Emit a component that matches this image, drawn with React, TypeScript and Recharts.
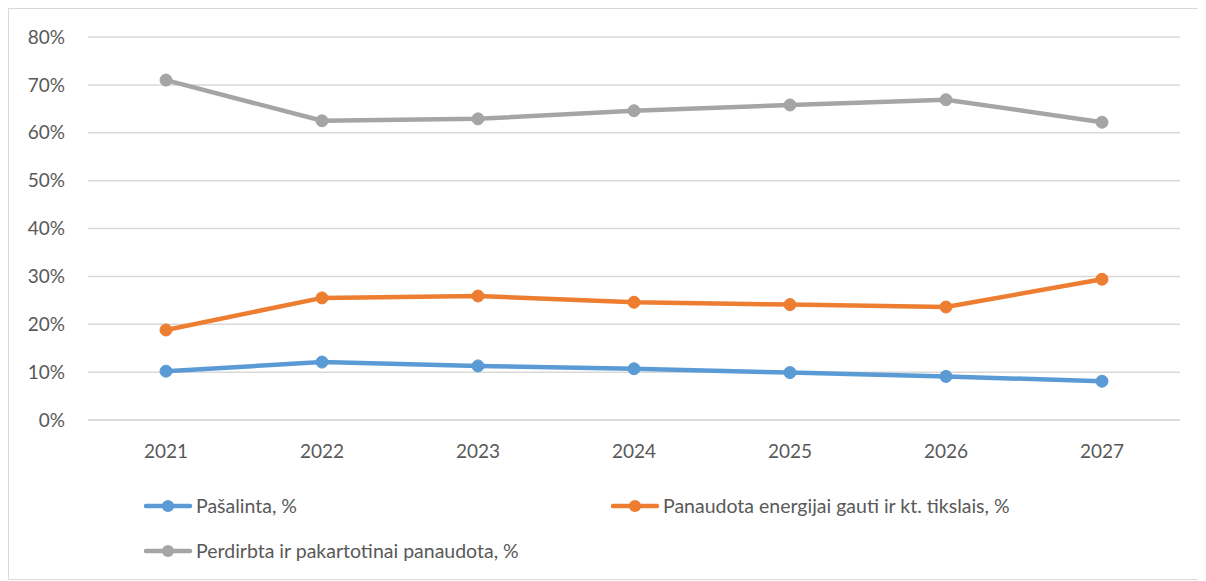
import { CartesianGrid, Legend, Line, LineChart, XAxis, YAxis } from "recharts";

const years = ["2021", "2022", "2023", "2024", "2025", "2026", "2027"];
const pasalinta = [10.2, 12.1, 11.3, 10.7, 9.9, 9.1, 8.1];
const energijai = [18.8, 25.5, 25.9, 24.6, 24.1, 23.6, 29.4];
const perdirbta = [71.0, 62.5, 62.9, 64.6, 65.8, 66.9, 62.2];
const yTicks = [0, 10, 20, 30, 40, 50, 60, 70, 80];

const seriesNames = {
  pasalinta: "Pašalinta, %",
  energijai: "Panaudota energijai gauti ir kt. tikslais, %",
  perdirbta: "Perdirbta ir pakartotinai panaudota, %",
};

const data = years.map((year, i) => ({
  year,
  pasalinta: pasalinta[i],
  energijai: energijai[i],
  perdirbta: perdirbta[i],
}));

const FONT = "Lato, 'Open Sans', sans-serif";
const TEXT = "#595959";

function LegendItem({ color, label }: { color: string; label: string }) {
  return (
    <div style={{ display: "flex", alignItems: "center" }}>
      <svg width={50} height={14}>
        <line x1={2} y1={7} x2={46} y2={7} stroke={color} strokeWidth={4.5} strokeLinecap="round" />
        <circle cx={24} cy={7} r={6} fill={color} />
      </svg>
      <span style={{ color: TEXT, fontSize: 19.5, fontFamily: FONT, marginLeft: 2 }}>{label}</span>
    </div>
  );
}

function ChartLegend() {
  return (
    <div style={{ position: "relative", height: 119 }}>
      <div style={{ position: "absolute", left: 135, top: 34 }}>
        <LegendItem color="#5B9BD5" label={seriesNames.pasalinta} />
      </div>
      <div style={{ position: "absolute", left: 602, top: 34 }}>
        <LegendItem color="#ED7D31" label={seriesNames.energijai} />
      </div>
      <div style={{ position: "absolute", left: 135, top: 79 }}>
        <LegendItem color="#A5A5A5" label={seriesNames.perdirbta} />
      </div>
    </div>
  );
}

export default function App() {
  return (
    <div style={{ width: 1190, height: 570, border: "1px solid #d9d9d9", background: "#fff" }}>
      <LineChart width={1190} height={570} data={data} margin={{ top: 28, right: 19, left: 0, bottom: 0 }}>
        <CartesianGrid vertical={false} stroke="#d9d9d9" strokeWidth={1.5} />
        <XAxis
          dataKey="year"
          height={40}
          padding={{ left: 78, right: 78 }}
          axisLine={{ stroke: "#d9d9d9", strokeWidth: 1.5 }}
          tickLine={false}
          tick={{ fill: TEXT, fontSize: 19, fontFamily: FONT }}
          tickMargin={19}
        />
        <YAxis
          width={79}
          domain={[0, 80]}
          ticks={yTicks}
          tickFormatter={(v: number) => `${v}%`}
          axisLine={false}
          tickLine={false}
          tickSize={0}
          tickMargin={23}
          tick={{ fill: TEXT, fontSize: 19, fontFamily: FONT }}
        />
        <Legend verticalAlign="bottom" height={119} content={() => <ChartLegend />} />
        <Line
          dataKey="pasalinta"
          name={seriesNames.pasalinta}
          stroke="#5B9BD5"
          strokeWidth={4.5}
          dot={{ r: 6, fill: "#5B9BD5", stroke: "#5B9BD5", strokeWidth: 1 }}
          isAnimationActive={false}
        />
        <Line
          dataKey="energijai"
          name={seriesNames.energijai}
          stroke="#ED7D31"
          strokeWidth={4.5}
          dot={{ r: 6, fill: "#ED7D31", stroke: "#ED7D31", strokeWidth: 1 }}
          isAnimationActive={false}
        />
        <Line
          dataKey="perdirbta"
          name={seriesNames.perdirbta}
          stroke="#A5A5A5"
          strokeWidth={4.5}
          dot={{ r: 6, fill: "#A5A5A5", stroke: "#A5A5A5", strokeWidth: 1 }}
          isAnimationActive={false}
        />
      </LineChart>
    </div>
  );
}
